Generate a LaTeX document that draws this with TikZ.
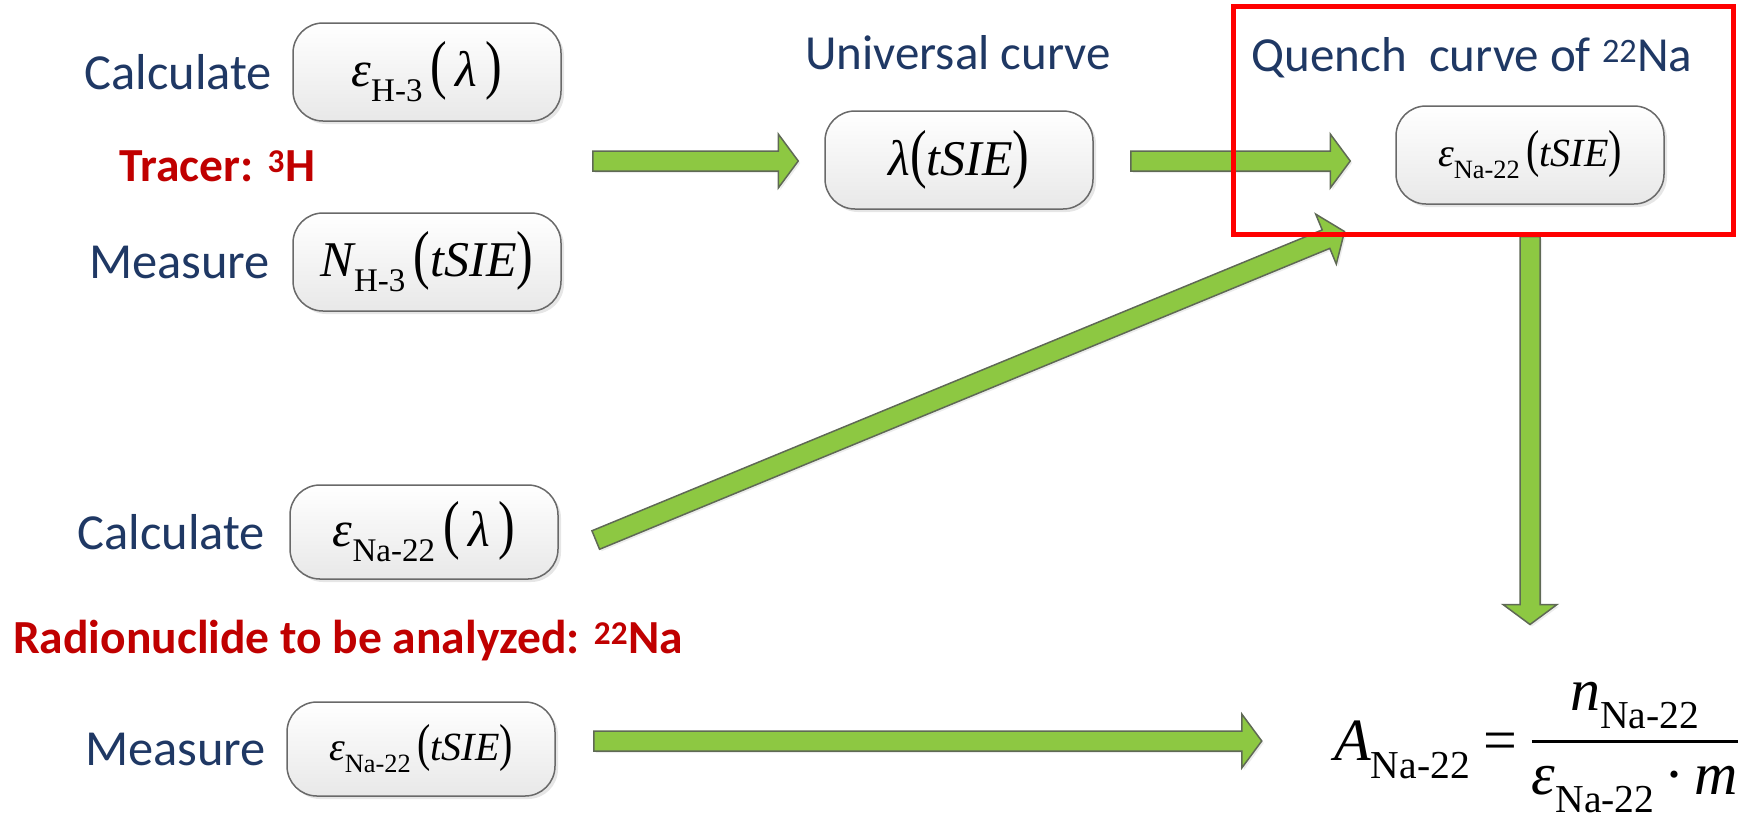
\documentclass[tikz,border=0pt]{standalone}
\usepackage{fontspec}
\usepackage{graphicx}
\setmainfont{Carlito}
\newfontfamily\tnr{Liberation Serif}
\usetikzlibrary{calc,positioning,shadows}

\definecolor{navytext}{RGB}{31,56,100}
\definecolor{darkred}{RGB}{192,0,0}
\definecolor{framered}{RGB}{255,0,0}
\definecolor{arrowgreen}{RGB}{141,200,66}
\definecolor{arrowedge}{RGB}{95,105,85}
\definecolor{boxedge}{RGB}{105,105,105}

\setlength{\arrayrulewidth}{3pt}

% subscript and tall parentheses for the formulas
\newcommand{\lo}[1]{\raisebox{-0.3em}{\scalebox{0.66}{\upshape #1}}}
\newcommand{\tall}[1]{\scalebox{1}[1.3]{\upshape #1}}

% block arrow from coordinate #1 to coordinate #2
\newcommand{\greenarrow}[2]{%
  \coordinate (ga-h) at ($(#2)!20pt!(#1)$);
  \filldraw[blockarrow] ($(#1)!10pt!-90:(#2)$) -- ($(ga-h)!10pt!90:(#1)$) -- ($(ga-h)!27pt!90:(#1)$) -- (#2)
    -- ($(ga-h)!27pt!-90:(#1)$) -- ($(ga-h)!10pt!-90:(#1)$) -- ($(#1)!10pt!90:(#2)$) -- cycle;}

\tikzset{
  mathbox/.style={draw=boxedge,line width=1.5pt,rounded corners=30pt,top color=white,bottom color=black!9,
    minimum width=268pt,minimum height=98pt,inner sep=0pt,font=\tnr\fontsize{50}{60}\selectfont\itshape,
    drop shadow={opacity=0.2,shadow xshift=3pt,shadow yshift=-3pt}},
  smallmath/.style={mathbox,font=\tnr\fontsize{40}{48}\selectfont\itshape},
  steplabel/.style={text=navytext,font=\fontsize{50.5}{60}\selectfont,inner sep=0pt},
  nuclide/.style={text=darkred,font=\bfseries\fontsize{47.5}{56}\selectfont,inner sep=0pt},
  blockarrow/.style={fill=arrowgreen,draw=arrowedge,line width=1.5pt,line join=miter,
    drop shadow={opacity=0.15,shadow xshift=2pt,shadow yshift=-2pt}}
}

\begin{document}
\begin{tikzpicture}[x=1pt,y=-1pt]
\useasboundingbox (0,0) rectangle (1739,820);

% tracer 3H
\node[mathbox] (epsh3) at (427,72) {ε\lo{H-3}\,\tall{(}\,λ\,\tall{)}};
\node[mathbox] (nh3) at (427,262) {N\lo{H-3}\,\tall{(}tSIE\tall{)}};
\node[steplabel,left=20pt of epsh3] (calch3) {Calculate};
\node[steplabel,left=22pt of nh3] (meash3) {Measure};
\node[nuclide,anchor=west] (tracer) at (119,166) {Tracer: \textsuperscript{3}H};

% curves
\node[mathbox] (lambda) at (959,160) {λ\tall{(}tSIE\tall{)}};
\node[steplabel,font=\fontsize{49}{58}\selectfont] (univ) at (958,53) {Universal curve};
\node[smallmath] (epsna) at (1530,155) {ε\lo{Na-22}\,\tall{(}tSIE\tall{)}};
\node[steplabel,font=\fontsize{49}{58}\selectfont] (quench) at (1472,58) {Quench~ curve of \textsuperscript{22}Na};

% radionuclide 22Na
\node[mathbox,minimum height=94pt] (epsnalam) at (424,532) {ε\lo{Na-22}\,\tall{(}\,λ\,\tall{)}};
\node[smallmath,minimum height=94pt] (epsnatsie) at (421,749) {ε\lo{Na-22}\,\tall{(}tSIE\tall{)}};
\node[steplabel,left=24pt of epsnalam] (calcna) {Calculate};
\node[steplabel,left=20pt of epsnatsie] (measna) {Measure};
\node[nuclide,anchor=west] (radio) at (13,641) {Radionuclide to be analyzed: \textsuperscript{22}Na};

% activity
\node[font=\tnr\fontsize{60}{72}\selectfont,inner sep=0pt,anchor=base west] (activity) at (1334,760)
  {{\itshape A\lo{Na-22}}\hspace{0.22em}=\hspace{0.25em}\raisebox{50pt}{\begin{tabular}[t]{@{}c@{}}
   \itshape n\lo{Na-22}\\[8pt]\hline
   \rule{0pt}{52pt}\itshape ε\lo{Na-22}\,\upshape·\,\itshape m
  \end{tabular}}};

\node[draw=framered,line width=5pt,minimum width=500pt,minimum height=228pt] (frame) at (1483,120) {};

% arrows
\coordinate (a1s) at ($(epsh3.east)!0.5!(nh3.east)+(31,-6)$);
\coordinate (a1e) at ($(a1s -| lambda.west)+(-26,0)$);
\coordinate (a2s) at ($(a1s -| lambda.east)+(37,0)$);
\coordinate (a2e) at ($(a1s -| epsna.west)+(-45,0)$);
\coordinate (a3s) at ($(epsnalam.east)+(37,8)$);
\coordinate (a3e) at ($(frame.south west)+(114,-5)$);
\coordinate (a4s) at (epsna.south |- frame.south);
\coordinate (a4e) at ($(a4s)+(0,388)$);
\coordinate (a5s) at ($(epsnatsie.east)+(38,-8)$);
\coordinate (a5e) at ($(a5s)+(668,0)$);
\greenarrow{a1s}{a1e}
\greenarrow{a2s}{a2e}
\greenarrow{a3s}{a3e}
\greenarrow{a4s}{a4e}
\greenarrow{a5s}{a5e}

\node[draw=framered,line width=5pt,minimum width=500pt,minimum height=228pt] at (frame) {};
\end{tikzpicture}
\end{document}
